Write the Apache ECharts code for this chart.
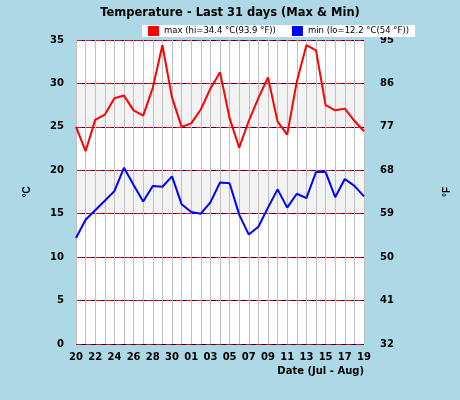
<!DOCTYPE html>
<html><head><meta charset="utf-8">
<script src="https://cdn.jsdelivr.net/npm/echarts@6/dist/echarts.min.js"></script>
<style>html,body{margin:0;background:#add8e6}#c{width:460px;height:400px}</style>
</head><body><div id="c"></div>
<script>
const days = ['20','21','22','23','24','25','26','27','28','29','30','31','01','02','03','04','05','06','07','08','09','10','11','12','13','14','15','16','17','18','19'];
const maxT = [25.0,22.2,25.8,26.4,28.3,28.6,26.9,26.3,29.5,34.4,28.4,25.0,25.4,27.0,29.4,31.3,26.0,22.6,25.7,28.3,30.7,25.6,24.1,30.2,34.4,33.8,27.5,26.9,27.1,25.7,24.5];
const minT = [12.2,14.3,15.4,16.5,17.6,20.3,18.3,16.4,18.2,18.1,19.3,16.1,15.2,15.0,16.3,18.6,18.5,14.9,12.6,13.5,15.7,17.8,15.7,17.3,16.8,19.8,19.8,16.9,19.0,18.2,17.0];
const fTicks = ['32','41','50','59','68','77','86','95'];
const lbl = {color:'#000',fontSize:10,fontWeight:'bold',fontFamily:'DejaVu Sans'};
const chart = echarts.init(document.getElementById('c'));
chart.setOption({
  backgroundColor:'#add8e6', animation:false,
  title:{text:'Temperature - Last 31 days (Max & Min)',left:'center',top:2,textStyle:{fontSize:11.5,fontWeight:'bold',color:'#000',fontFamily:'DejaVu Sans'}},
  legend:{top:25,left:142,itemWidth:11,itemHeight:10,itemGap:16,icon:'rect',backgroundColor:'#fff',padding:[1,6],
    textStyle:{fontSize:8.5,color:'#000',fontFamily:'DejaVu Sans'},
    data:[{name:'max (hi=34.4 °C(93.9 °F))'},{name:'min (lo=12.2 °C(54 °F))'}]},
  grid:{left:76,right:93,top:40,bottom:56,show:true,backgroundColor:'#fff',borderWidth:0},
  xAxis:{type:'category',data:days,boundaryGap:false,
    axisLine:{show:false},axisTick:{show:false},
    axisLabel:Object.assign({interval:1,margin:8},lbl),
    splitLine:{show:true,interval:0,lineStyle:{color:'#c0c0c0',width:1}},
    name:'Date (Jul - Aug)',nameLocation:'end',nameGap:0,
    nameTextStyle:{fontSize:10,fontWeight:'bold',color:'#000',align:'right',verticalAlign:'top',padding:[22,0,0,0],fontFamily:'DejaVu Sans'}},
  yAxis:[
    {type:'value',min:0,max:35,interval:5,position:'left',
     axisLine:{show:false},axisTick:{show:false},axisLabel:Object.assign({margin:12},lbl),
     splitLine:{show:true,lineStyle:{color:'#000080',width:1}},
     splitArea:{show:true,areaStyle:{color:['#fff','#fff','#fff','#f3f3f3','#fff','#f3f3f3','#fff']}},
     name:'°C',nameLocation:'middle',nameGap:44,nameRotate:90,nameTextStyle:{fontSize:10,fontWeight:'bold',color:'#000'}},
    {type:'value',min:32,max:95,interval:9,position:'right',
     axisLine:{show:false},axisTick:{show:false},axisLabel:Object.assign({margin:16},lbl),
     splitLine:{show:false},
     name:'°F',nameLocation:'middle',nameGap:78,nameRotate:90,nameTextStyle:{fontSize:10,fontWeight:'bold',color:'#000'}},
    {type:'value',min:0,max:35,interval:5,position:'left',show:true,
     axisLine:{show:false},axisTick:{show:false},axisLabel:{show:false},
     splitLine:{show:true,lineStyle:{color:'#ff0000',width:1,type:[5,5]}}}
  ],
  series:[
    {name:'max (hi=34.4 °C(93.9 °F))',type:'line',data:maxT,symbol:'none',color:'#ff0000',lineStyle:{width:2},z:5},
    {name:'min (lo=12.2 °C(54 °F))',type:'line',data:minT,symbol:'none',color:'#0000ff',lineStyle:{width:2},z:5}
  ]
});
</script></body></html>
